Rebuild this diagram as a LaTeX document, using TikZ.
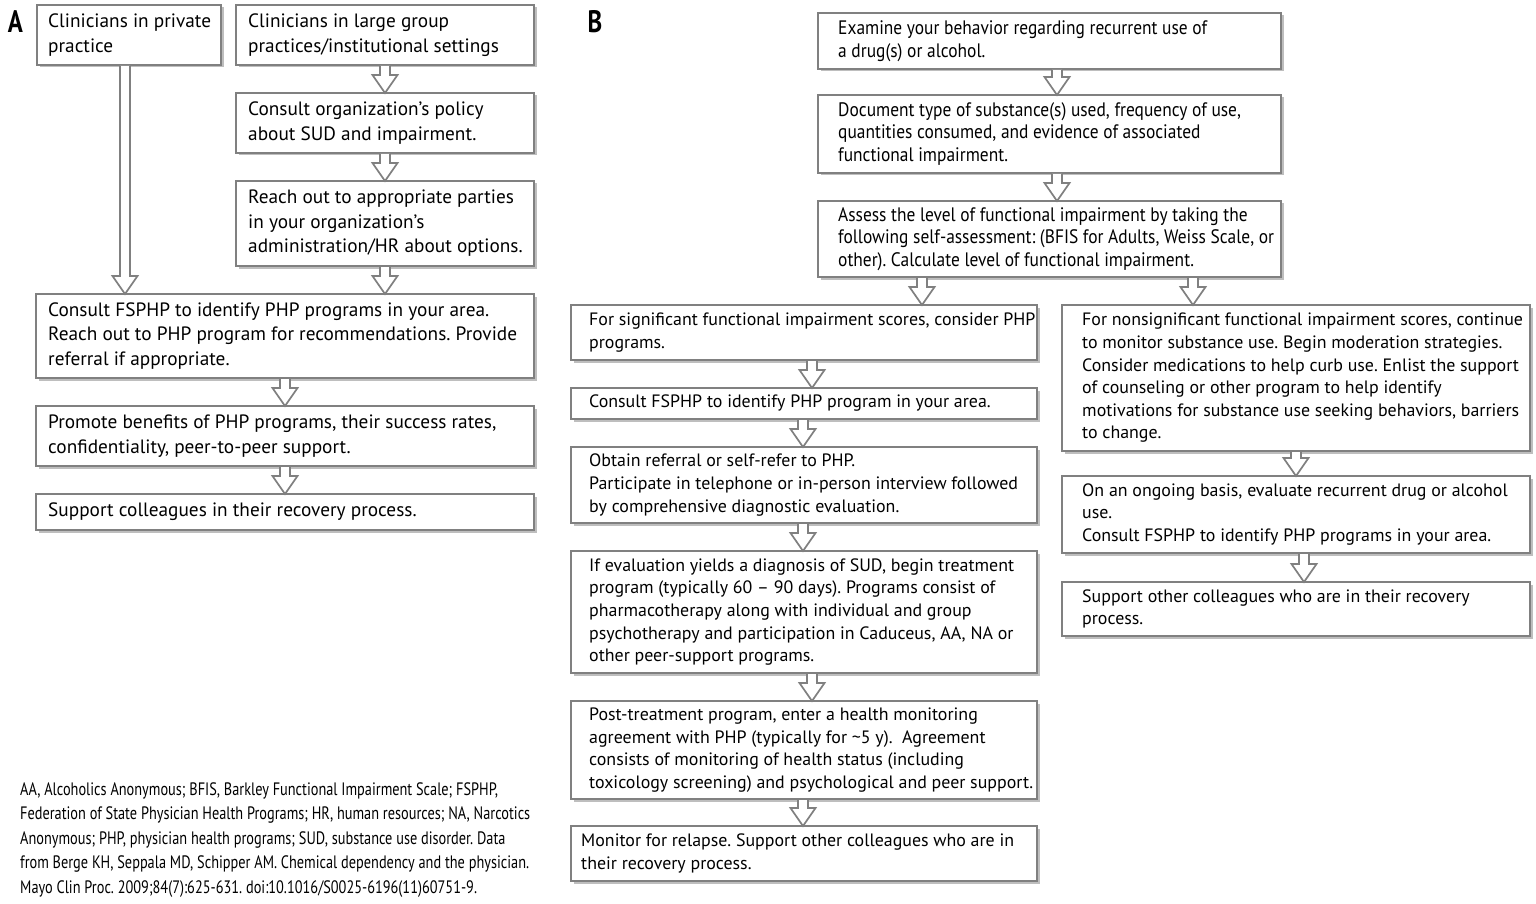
\documentclass[tikz,border=0pt]{standalone}
\usepackage{fontspec}
\setmainfont{PT Sans}
\newfontfamily\condfont[FakeStretch=0.893]{PT Sans}
\newfontfamily\notefont[FakeStretch=0.795]{PT Sans}
\newfontfamily\labfont[FakeStretch=0.80]{PT Sans}
\usetikzlibrary{shadows,calc}
\definecolor{bordergray}{RGB}{128,128,128}
\definecolor{shadowgray}{RGB}{190,190,190}
\frenchspacing
\tikzset{
  boxst/.style={draw=bordergray, line width=1.7pt, fill=white, rectangle, anchor=north west,
    inner sep=0pt, outer sep=0pt,
    drop shadow={shadow xshift=2.5pt, shadow yshift=-2.5pt, fill=shadowgray, opacity=1}},
  txtA/.style={anchor=west, align=left, inner sep=0pt, font=\fontsize{19.3}{24.5}\selectfont},
  txtB/.style={anchor=west, align=left, inner sep=0pt, font=\fontsize{17.9}{22.6}\selectfont},
  txtC/.style={anchor=west, align=left, inner sep=0pt, font=\condfont\fontsize{19.5}{22.5}\selectfont},
  notest/.style={anchor=north west, align=left, inner sep=0pt, font=\notefont\fontsize{18}{24.5}\selectfont},
  panelst/.style={anchor=center, inner sep=0pt, font=\labfont\bfseries\fontsize{31}{31}\selectfont},
  arrowst/.style={draw=bordergray, line width=1.7pt, fill=white, line join=miter},
}
% box: name, x1, y1, x2, y2
\newcommand\mkbox[5]{\node[boxst, minimum width=#4-#2, minimum height=#5-#3] (#1) at (#2,#3) {};}
% block arrow: from, to, x
\newcommand\barrow[3]{%
  \path[arrowst] let \p1=(#1.south), \p2=(#2.north), \p3=(#3,0) in
    (\x3-5pt,\y1-1pt) -- (\x3-5pt,\y2+18pt) -- (\x3-12.5pt,\y2+18pt) -- (\x3,\y2) --
    (\x3+12.5pt,\y2+18pt) -- (\x3+5pt,\y2+18pt) -- (\x3+5pt,\y1-1pt);}
\begin{document}
\begin{tikzpicture}[x=1pt,y=-1pt]
\useasboundingbox[fill=white] (0,0) rectangle (1536,904);
% panel labels
\node[panelst] (labA) at (15.5,22) {A};
\node[panelst] (labB) at (595,22) {B};
% ---- Panel A boxes
\mkbox{a1}{37}{5}{221}{65}
\mkbox{a2}{236}{5}{534}{65}
\mkbox{a3}{236}{93}{534}{153}
\mkbox{a4}{236}{181}{534}{266}
\mkbox{a5}{36}{294}{534}{378}
\mkbox{a6}{36}{406}{534}{466}
\mkbox{a7}{36}{494}{534}{530}
\node[txtA] (ta1) at ([xshift=11pt]a1.west) {Clinicians in private\\practice};
\node[txtA] (ta2) at ([xshift=12pt]a2.west) {Clinicians in large group\\practices/institutional settings};
\node[txtA] (ta3) at ([xshift=12pt]a3.west) {Consult organization’s policy\\about SUD and impairment.};
\node[txtA] (ta4) at ([xshift=12pt]a4.west) {Reach out to appropriate parties\\in your organization’s\\administration/HR about options.};
\node[txtA] (ta5) at ([xshift=12pt]a5.west) {Consult FSPHP to identify PHP programs in your area.\\Reach out to PHP program for recommendations. Provide\\referral if appropriate.};
\node[txtA] (ta6) at ([xshift=12pt]a6.west) {Promote benefits of PHP programs, their success rates,\\confidentiality, peer-to-peer support.};
\node[txtA] (ta7) at ([xshift=12pt]a7.west) {Support colleagues in their recovery process.};
% ---- Panel B boxes
\mkbox{b1}{818}{13}{1281}{69}
\mkbox{b2}{818}{95}{1281}{173}
\mkbox{b3}{818}{201}{1281}{277}
\mkbox{l1}{571}{305}{1037}{360}
\mkbox{l2}{571}{388}{1037}{419}
\mkbox{l3}{571}{447}{1037}{523}
\mkbox{l4}{571}{551}{1037}{673}
\mkbox{l5}{571}{701}{1037}{799}
\mkbox{l6}{571}{826}{1037}{881}
\mkbox{r1}{1062}{305}{1530}{451}
\mkbox{r2}{1062}{476}{1530}{553}
\mkbox{r3}{1062}{582}{1530}{636}
\node[txtC] (tb1) at ([xshift=20pt]b1.west) {Examine your behavior regarding recurrent use of\\a drug(s) or alcohol.};
\node[txtC] (tb2) at ([xshift=20pt]b2.west) {Document type of substance(s) used, frequency of use,\\quantities consumed, and evidence of associated\\functional impairment.};
\node[txtC] (tb3) at ([xshift=20pt]b3.west) {Assess the level of functional impairment by taking the\\following self-assessment: (BFIS for Adults, Weiss Scale, or\\other). Calculate level of functional impairment.};
\node[txtB] (tl1) at ([xshift=18pt]l1.west) {For significant functional impairment scores, consider PHP\\programs.};
\node[txtB] (tl2) at ([xshift=18pt]l2.west) {Consult FSPHP to identify PHP program in your area.};
\node[txtB] (tl3) at ([xshift=18pt]l3.west) {Obtain referral or self-refer to PHP.\\Participate in telephone or in-person interview followed\\by comprehensive diagnostic evaluation.};
\node[txtB] (tl4) at ([xshift=18pt]l4.west) {If evaluation yields a diagnosis of SUD, begin treatment\\program (typically 60 – 90 days). Programs consist of\\pharmacotherapy along with individual and group\\psychotherapy and participation in Caduceus, AA, NA or\\other peer-support programs.};
\node[txtB] (tl5) at ([xshift=18pt]l5.west) {Post-treatment program, enter a health monitoring\\agreement with PHP (typically for {\char"7E}5 y).\ \ Agreement\\consists of monitoring of health status (including\\toxicology screening) and psychological and peer support.};
\node[txtB] (tl6) at ([xshift=10pt]l6.west) {Monitor for relapse. Support other colleagues who are in\\their recovery process.};
\node[txtB] (tr1) at ([xshift=20pt]r1.west) {For nonsignificant functional impairment scores, continue\\to monitor substance use. Begin moderation strategies.\\Consider medications to help curb use. Enlist the support\\of counseling or other program to help identify\\motivations for substance use seeking behaviors, barriers\\to change.};
\node[txtB] (tr2) at ([xshift=20pt]r2.west) {On an ongoing basis, evaluate recurrent drug or alcohol\\use.\\Consult FSPHP to identify PHP programs in your area.};
\node[txtB] (tr3) at ([xshift=20pt]r3.west) {Support other colleagues who are in their recovery\\process.};
% ---- arrows
\barrow{a2}{a3}{385}
\barrow{a3}{a4}{385}
\barrow{a4}{a5}{385}
\barrow{a1}{a5}{125}
\barrow{a5}{a6}{285}
\barrow{a6}{a7}{285}
\barrow{b1}{b2}{1057}
\barrow{b2}{b3}{1057}
\barrow{b3}{l1}{922}
\barrow{b3}{r1}{1193}
\barrow{l1}{l2}{812}
\barrow{l2}{l3}{803}
\barrow{l3}{l4}{803}
\barrow{l4}{l5}{812}
\barrow{l5}{l6}{803}
\barrow{r1}{r2}{1296}
\barrow{r2}{r3}{1304}
% ---- footnote
\node[notest] (note) at (20,782) {AA, Alcoholics Anonymous; BFIS, Barkley Functional Impairment Scale; FSPHP,\\Federation of State Physician Health Programs; HR, human resources; NA, Narcotics\\Anonymous; PHP, physician health programs; SUD, substance use disorder. Data\\from Berge KH, Seppala MD, Schipper AM. Chemical dependency and the physician.\\Mayo Clin Proc. 2009;84(7):625-631. doi:10.1016/S0025-6196(11)60751-9.};
\end{tikzpicture}
\end{document}
